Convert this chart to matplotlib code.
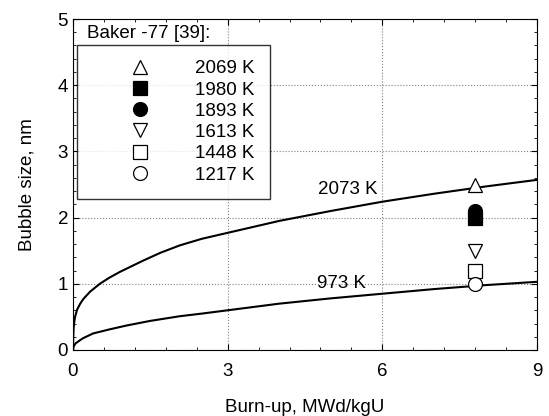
import numpy as np
import matplotlib.pyplot as plt
from matplotlib.ticker import MultipleLocator
from matplotlib.lines import Line2D

plt.rcParams['font.family'] = ['Liberation Sans', 'DejaVu Sans']

# model curves
x_973 = [0, 0.01, 0.05, 0.14, 0.2, 0.39, 0.7, 1.04, 1.5, 2.07, 2.5, 3, 3.5, 4, 5, 6, 7, 8, 9]
y_973 = [0, 0.05, 0.10, 0.15, 0.18, 0.25, 0.31, 0.37, 0.44, 0.51, 0.55, 0.60, 0.65, 0.70, 0.78, 0.85, 0.92, 0.98, 1.03]

x_2073 = [0, 0.005, 0.01, 0.02, 0.04, 0.08, 0.14, 0.2, 0.33, 0.52, 0.7, 0.91, 1.36, 1.7, 2.07, 2.5, 3, 3.5, 4, 5, 6, 7, 8, 9]
y_2073 = [0, 0.18, 0.30, 0.40, 0.50, 0.61, 0.70, 0.77, 0.88, 1.00, 1.09, 1.18, 1.35, 1.47, 1.58, 1.68, 1.77, 1.86, 1.95, 2.10, 2.24, 2.36, 2.47, 2.57]

# Baker -77 [39] measurements
baker_burnup = 7.8
baker_temps = ['2069 K', '1980 K', '1893 K', '1613 K', '1448 K', '1217 K']
baker_size = [2.5, 2.0, 2.1, 1.5, 1.2, 1.0]
baker_marker = ['^', 's', 'o', 'v', 's', 'o']
baker_filled = [False, True, True, False, False, False]

fig = plt.figure(figsize=(5.49, 4.16), dpi=100)
ax = fig.add_axes([73/549, 1-350/416, 464/549, 331/416])

ax.plot(x_2073, y_2073, color='black', lw=1.5)
ax.plot(x_973, y_973, color='black', lw=1.5)
ax.text(4.75, 2.42, '2073 K', fontsize=13.5, va='center', ha='left')
ax.text(4.73, 1.0, '973 K', fontsize=13.5, va='center', ha='left')

handles = []
for lab, s, m, f in zip(baker_temps, baker_size, baker_marker, baker_filled):
    fc = 'black' if f else 'white'
    ax.plot([baker_burnup], [s], ls='none', marker=m, ms=10, mfc=fc, mec='black', mew=0.9, zorder=3)
    handles.append(Line2D([], [], ls='none', marker=m, ms=10, mfc=fc, mec='black', mew=0.9))

leg = ax.legend(handles, baker_temps, loc='upper left', bbox_to_anchor=(0.009, 0.921),
                frameon=True, fancybox=False, fontsize=13.5, handlelength=5.1,
                handletextpad=0.4, borderpad=0.8, labelspacing=0.22, borderaxespad=0)
leg.get_frame().set_edgecolor('black')
leg.get_frame().set_linewidth(1.0)
ax.text(0.03, 0.957, 'Baker -77 [39]:', transform=ax.transAxes, fontsize=13.5, va='center', ha='left')

ax.set_xlim(0, 9)
ax.set_ylim(0, 5)
ax.xaxis.set_major_locator(MultipleLocator(3))
ax.xaxis.set_minor_locator(MultipleLocator(0.6))
ax.yaxis.set_major_locator(MultipleLocator(1))
ax.yaxis.set_minor_locator(MultipleLocator(0.2))
ax.tick_params(which='both', direction='in', top=True, right=True, labelsize=13.5)
ax.tick_params(which='major', length=4)
ax.tick_params(which='minor', length=2.5)
ax.tick_params(axis='x', pad=9)
ax.grid(True, which='major', ls=':', color='gray', lw=0.8)
ax.set_xlabel('Burn-up, MWd/kgU', fontsize=13.5, labelpad=14)
ax.set_ylabel('Bubble size, nm', fontsize=13.5, labelpad=16)

fig.savefig('out.png', dpi=100)
